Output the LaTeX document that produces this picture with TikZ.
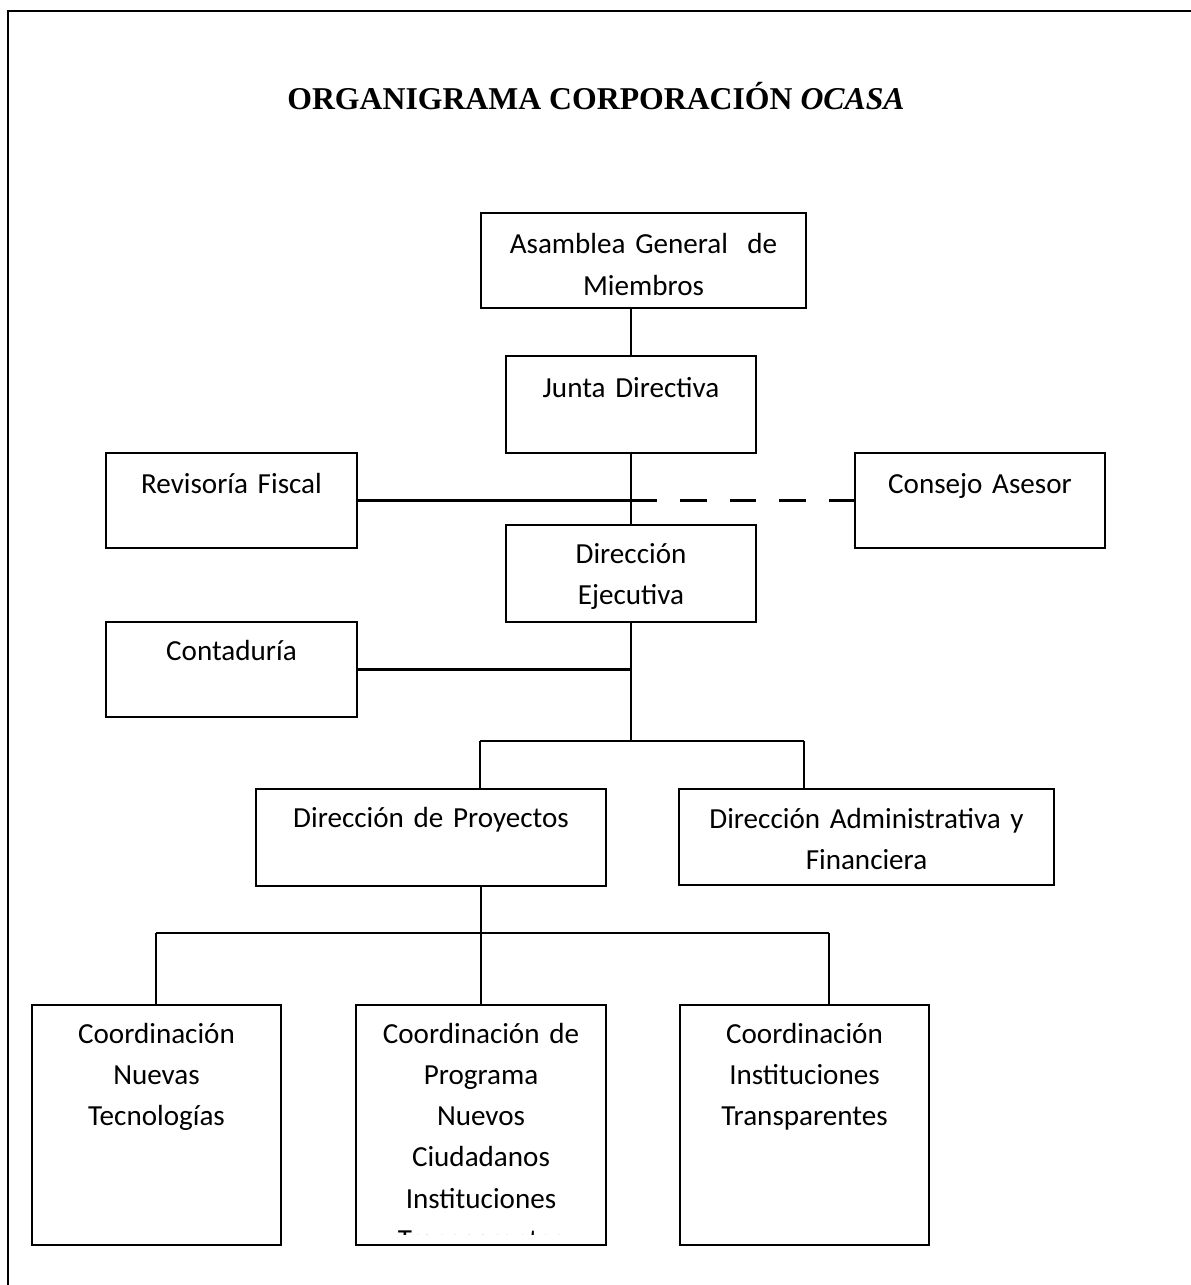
\documentclass[tikz,border=0pt]{standalone}
\usepackage{fontspec}
\setmainfont{Carlito}
\newfontfamily\titlefont{Liberation Serif}
\begin{document}
\begin{tikzpicture}[x=0.378pt,y=-0.378pt,
  box/.style={draw=black, line width=0.85pt, inner sep=0pt},
  wh/.style 2 args={minimum width=#1*0.378pt, minimum height=#2*0.378pt},
  lbl/.style={inner sep=0pt, anchor=base, align=center, text width=#1*0.378pt, font=\fontsize{11}{15.6}\selectfont},
  conn/.style={draw=black, line width=0.85pt},
  dashconn/.style={draw=black, line width=0.85pt, dash pattern=on 10pt off 8.7pt}]
\useasboundingbox (0,0) rectangle (1191,1285);
% outer frame
\draw[line width=0.85pt] (8,1300) -- (8,11) -- (1200,11);
% title
\node[anchor=base, inner sep=0pt] (title) at (596,110) {\titlefont\fontsize{12}{15}\selectfont\bfseries ORGANIGRAMA CORPORACIÓN \textit{OCASA}};
% boxes
\node[box, wh={325}{95}] (asam) at (643.5,260.5) {};
\node[lbl=325] (asamt) at (643.5,254) {Asamblea General~ de\\Miembros};
\node[box, wh={250}{97}] (junta) at (631,404.5) {};
\node[lbl=250] (juntat) at (631,397) {Junta Directiva};
\node[box, wh={251}{95}] (revis) at (231.5,500.5) {};
\node[lbl=251] (revist) at (231.5,493) {Revisoría Fiscal};
\node[box, wh={250}{95}] (consejo) at (980,500.5) {};
\node[lbl=250] (consejot) at (980,493) {Consejo Asesor};
\node[box, wh={250}{97}] (direje) at (631,573.5) {};
\node[lbl=250] (direjet) at (631,563) {Dirección\\Ejecutiva};
\node[box, wh={251}{95}] (conta) at (231.5,669.5) {};
\node[lbl=251] (contat) at (231.5,660) {Contaduría};
\node[box, wh={350}{97}] (dproy) at (431,837.5) {};
\node[lbl=350] (dproyt) at (431,827) {Dirección de Proyectos};
\node[box, wh={375}{96}] (dadm) at (866.5,837) {};
\node[lbl=375] (dadmt) at (866.5,828) {Dirección Administrativa y\\Financiera};
\node[box, wh={249}{240}] (c1) at (156.5,1125) {};
\node[lbl=249] (c1t) at (156.5,1043) {Coordinación\\Nuevas\\Tecnologías};
\node[box, wh={250}{240}] (c2) at (481,1125) {};
\begin{scope}
\clip (357,1006) rectangle (605,1234);
\node[lbl=250] (c2t) at (481,1043) {Coordinación de\\Programa\\Nuevos\\Ciudadanos\\Instituciones\\Transparentes};
\end{scope}
\node[box, wh={249}{240}] (c3) at (804.5,1125) {};
\node[lbl=249] (c3t) at (804.5,1043) {Coordinación\\Instituciones\\Transparentes};
% connectors
\draw[conn] (asam.south -| junta.north) -- (junta.north);
\draw[conn] (junta.south) -- (direje.north);
\draw[conn] (revis.east) -- (revis.east -| junta.south);
\draw[dashconn] (consejo.west -| junta.south) -- (consejo.west);
\draw[conn] (conta.east) -- (conta.east -| direje.south);
\coordinate (hub1) at (631,741);
\coordinate (br1) at (480,741);
\coordinate (br2) at (804,741);
\draw[conn] (direje.south) -- (hub1);
\draw[conn] (br1) -- (br2);
\draw[conn] (br1) -- (br1 |- dproy.north);
\draw[conn] (br2) -- (br2 |- dadm.north);
\coordinate (br3) at (156,933);
\coordinate (br4) at (829,933);
\draw[conn] (c2.north |- dproy.south) -- (c2.north);
\draw[conn] (br3) -- (br4);
\draw[conn] (br3) -- (br3 |- c1.north);
\draw[conn] (br4) -- (br4 |- c3.north);
\end{tikzpicture}
\end{document}
